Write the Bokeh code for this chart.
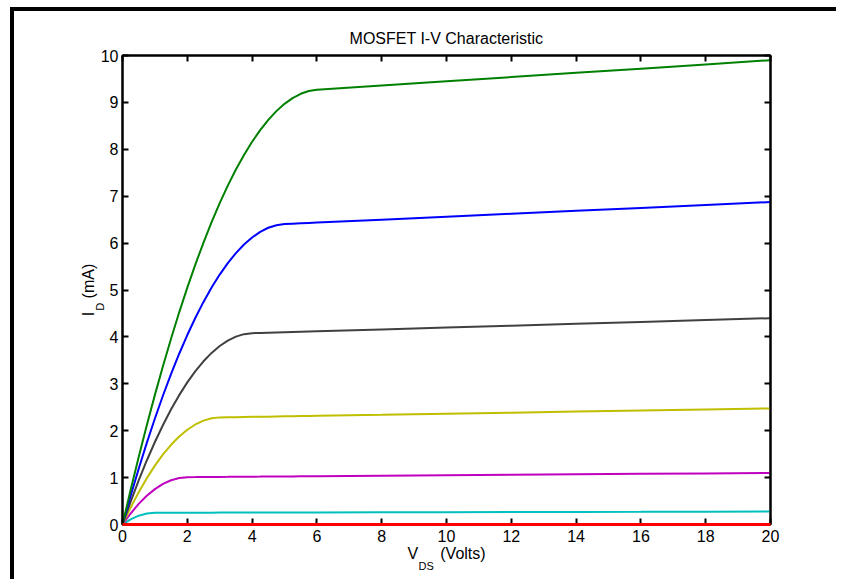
from bokeh.plotting import figure
from bokeh.models import Range1d, LinearAxis, FixedTicker, Title, CustomJSTickFormatter
from bokeh.embed import file_html
from bokeh.resources import INLINE

# ---- data ----
vds = [0, 0.25, 0.5, 0.75, 1, 1.25, 1.5, 1.75, 2, 2.25, 2.5, 2.75, 3, 3.25, 3.5, 3.75,
       4, 4.25, 4.5, 4.75, 5, 5.25, 5.5, 5.75, 6, 8, 10, 12, 14, 16, 18, 20]
id_red = [0, 0, 0, 0, 0, 0, 0, 0, 0, 0, 0, 0, 0, 0, 0, 0,
          0, 0, 0, 0, 0, 0, 0, 0, 0, 0, 0, 0, 0, 0, 0, 0]
id_cyan = [0, 0.109, 0.188, 0.235, 0.251, 0.252, 0.252, 0.252, 0.253, 0.253, 0.253, 0.253,
           0.254, 0.254, 0.254, 0.255, 0.255, 0.255, 0.256, 0.256, 0.256, 0.257, 0.257, 0.257,
           0.258, 0.26, 0.263, 0.265, 0.268, 0.27, 0.273, 0.275]
id_magenta = [0, 0.234, 0.439, 0.612, 0.754, 0.865, 0.944, 0.993, 1.01, 1.011, 1.013, 1.014,
              1.015, 1.016, 1.018, 1.019, 1.02, 1.021, 1.023, 1.024, 1.025, 1.026, 1.028, 1.029,
              1.03, 1.04, 1.05, 1.06, 1.07, 1.08, 1.09, 1.10]
id_yellow = [0, 0.359, 0.69, 0.988, 1.256, 1.494, 1.70, 1.876, 2.02, 2.133, 2.215, 2.265,
             2.284, 2.287, 2.289, 2.292, 2.295, 2.298, 2.30, 2.303, 2.306, 2.309, 2.312, 2.315,
             2.318, 2.34, 2.363, 2.385, 2.408, 2.43, 2.453, 2.475]
id_black = [0, 0.484, 0.94, 1.365, 1.759, 2.122, 2.456, 2.758, 3.03, 3.271, 3.48, 3.659,
            3.806, 3.922, 4.006, 4.059, 4.08, 4.085, 4.09, 4.095, 4.10, 4.105, 4.11, 4.115,
            4.12, 4.16, 4.20, 4.24, 4.28, 4.32, 4.36, 4.40]
id_blue = [0, 0.609, 1.19, 1.741, 2.261, 2.751, 3.211, 3.641, 4.04, 4.408, 4.746, 5.053,
           5.329, 5.573, 5.787, 5.969, 6.12, 6.239, 6.327, 6.382, 6.406, 6.414, 6.422, 6.43,
           6.438, 6.50, 6.563, 6.625, 6.688, 6.75, 6.813, 6.875]
id_green = [0, 0.734, 1.441, 2.117, 2.764, 3.38, 3.967, 4.524, 5.05, 5.546, 6.012, 6.447,
            6.851, 7.225, 7.568, 7.879, 8.16, 8.409, 8.627, 8.814, 8.969, 9.092, 9.183, 9.243,
            9.27, 9.36, 9.45, 9.54, 9.63, 9.72, 9.81, 9.90]

series = [
    (id_cyan, "#00BFBF"),
    (id_magenta, "#BF00BF"),
    (id_yellow, "#BFBF00"),
    (id_black, "#404040"),
    (id_blue, "#0000FF"),
    (id_green, "#008000"),
]

x_ticks = [0, 2, 4, 6, 8, 10, 12, 14, 16, 18, 20]
y_ticks = [0, 1, 2, 3, 4, 5, 6, 7, 8, 9, 10]

title_text = "MOSFET I-V Characteristic"
x_label_main = "V\u00a0\u00a0\u00a0\u00a0\u00a0(Volts)"
x_label_sub = "DS"
y_label_main = "I\u00a0\u00a0\u00a0(mA)"
y_label_sub = "D" + "\u00a0" * 11
FONT = "Liberation Sans"

p = figure(width=826, height=572, output_backend="svg", toolbar_location=None,
           x_range=Range1d(0, 20), y_range=Range1d(0, 10),
           min_border_left=108, min_border_right=70, min_border_top=44, min_border_bottom=59,
           x_axis_location=None, y_axis_location=None)
p.styles = {"border-left": "4px solid black", "border-top": "4px solid black",
            "margin-left": "10px", "margin-top": "7px"}
p.grid.visible = False
p.outline_line_color = "black"
p.outline_line_width = 2
p.background_fill_color = "white"
p.border_fill_color = "white"

p.title.text = title_text
p.title.align = "center"
p.title.text_font = FONT
p.title.text_font_size = "16px"
p.title.text_font_style = "normal"
p.title.text_color = "black"
p.title.standoff = 18

def make_axis(ticks, show_labels):
    ax = LinearAxis(ticker=FixedTicker(ticks=ticks))
    ax.axis_line_color = "black"
    ax.axis_line_width = 2
    ax.major_tick_line_color = "black"
    ax.major_tick_line_width = 2
    ax.major_tick_in = 6
    ax.major_tick_out = 0
    ax.minor_tick_line_color = None
    ax.major_label_text_font = FONT
    ax.major_label_text_font_size = "16px"
    ax.major_label_text_color = "black"
    ax.major_label_standoff = 4
    ax.axis_label_text_font = FONT
    ax.axis_label_text_font_style = "normal"
    ax.axis_label_text_color = "black"
    ax.axis_label_standoff = 0
    if not show_labels:
        ax.formatter = CustomJSTickFormatter(code="return ''")
        ax.major_label_standoff = 0
        ax.major_label_text_font_size = "1px"
    return ax

xb = make_axis(x_ticks, True)
xb.major_label_standoff = 5
xb.axis_label = x_label_main
xb.axis_label_text_font_size = "16px"
yl = make_axis(y_ticks, True)
yl.axis_label = y_label_sub
yl.axis_label_text_font_size = "11px"
yl.axis_label_standoff = -8

p.add_layout(xb, "below")
p.add_layout(yl, "left")
p.add_layout(make_axis(x_ticks, False), "above")
p.add_layout(make_axis(y_ticks, False), "right")

p.add_layout(Title(text=x_label_sub, align="left", offset=296, standoff=-13,
                   text_font=FONT, text_font_size="11px", text_font_style="normal",
                   text_color="black"), "below")
p.add_layout(Title(text=y_label_main, align="center", standoff=-12,
                   text_font=FONT, text_font_size="16px", text_font_style="normal",
                   text_color="black"), "left")

for ys, col in series:
    p.line(vds, ys, line_color=col, line_width=2)
p.line(vds, id_red, line_color="#FF0000", line_width=3, level="overlay")

open("out.html", "w").write(file_html(p, INLINE))
